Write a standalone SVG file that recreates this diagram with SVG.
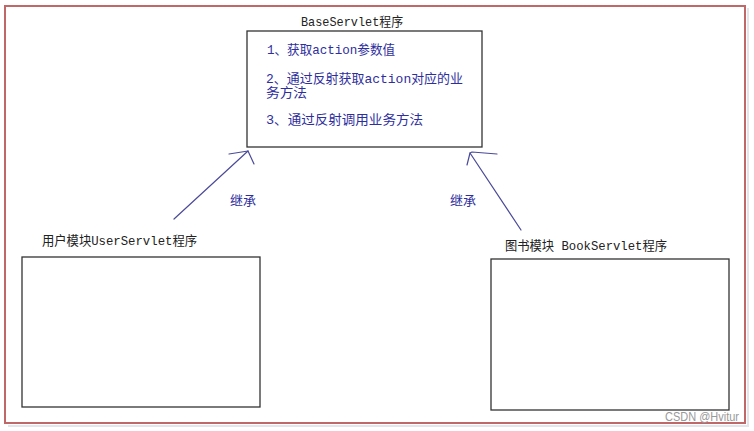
<svg xmlns="http://www.w3.org/2000/svg" width="754" height="431" viewBox="0 0 754 431">
<defs>
<style>
.frame{fill:#ffffff;stroke:#c06868;stroke-width:2}
.shadow{fill:none;stroke:#e4e4ea;stroke-width:2}
.box{fill:#ffffff;stroke:#333333;stroke-width:1.3}
.t{font-family:"Liberation Mono","Noto Sans CJK SC",monospace;font-size:13px}
.dark{fill:#222222}
.blue{fill:#2e2e9e}
.conn{fill:none;stroke:#4a4a9a;stroke-width:1.2;stroke-linecap:round;stroke-linejoin:round}
.wm{font-family:"Liberation Sans","Noto Sans",sans-serif;font-size:12px;fill:#999999}
</style>
</defs>
<rect x="0" y="0" width="754" height="431" fill="#ffffff"/>
<path class="shadow" d="M748 8 V426 H8"/>
<rect class="frame" x="5" y="6" width="740" height="417"/>

<g id="node-base">
<text class="t dark" x="301" y="26" textLength="102" lengthAdjust="spacingAndGlyphs">BaseServlet程序</text>
<rect class="box" x="247" y="31" width="235" height="116"/>
<text class="t blue" x="267" y="54" textLength="128" lengthAdjust="spacingAndGlyphs">1、获取action参数值</text>
<text class="t blue" x="266" y="83" textLength="197" lengthAdjust="spacingAndGlyphs">2、通过反射获取action对应的业</text>
<text class="t blue" x="266" y="97" textLength="41" lengthAdjust="spacingAndGlyphs">务方法</text>
<text class="t blue" x="266" y="124" textLength="157" lengthAdjust="spacingAndGlyphs">3、通过反射调用业务方法</text>
</g>

<g id="node-user">
<text class="t dark" x="42" y="245" textLength="155" lengthAdjust="spacingAndGlyphs">用户模块UserServlet程序</text>
<rect class="box" x="22" y="257" width="238" height="150"/>
</g>

<g id="node-book">
<text class="t dark" x="505" y="250" textLength="162" lengthAdjust="spacingAndGlyphs">图书模块 BookServlet程序</text>
<rect class="box" x="491" y="259" width="238" height="151"/>
</g>

<g id="connectors">
<path class="conn" d="M174 219 L248 151"/>
<path class="conn" d="M229 154 L248 151 L254 164"/>
<text class="t blue" x="230" y="205" textLength="26" lengthAdjust="spacingAndGlyphs">继承</text>
<path class="conn" d="M521 230 L470 153"/>
<path class="conn" d="M467 165 L470 153 L472 152 L497 154"/>
<text class="t blue" x="450" y="205" textLength="26" lengthAdjust="spacingAndGlyphs">继承</text>
</g>

<text class="wm" x="665" y="421" textLength="74" lengthAdjust="spacingAndGlyphs">CSDN @Hvitur</text>
</svg>
